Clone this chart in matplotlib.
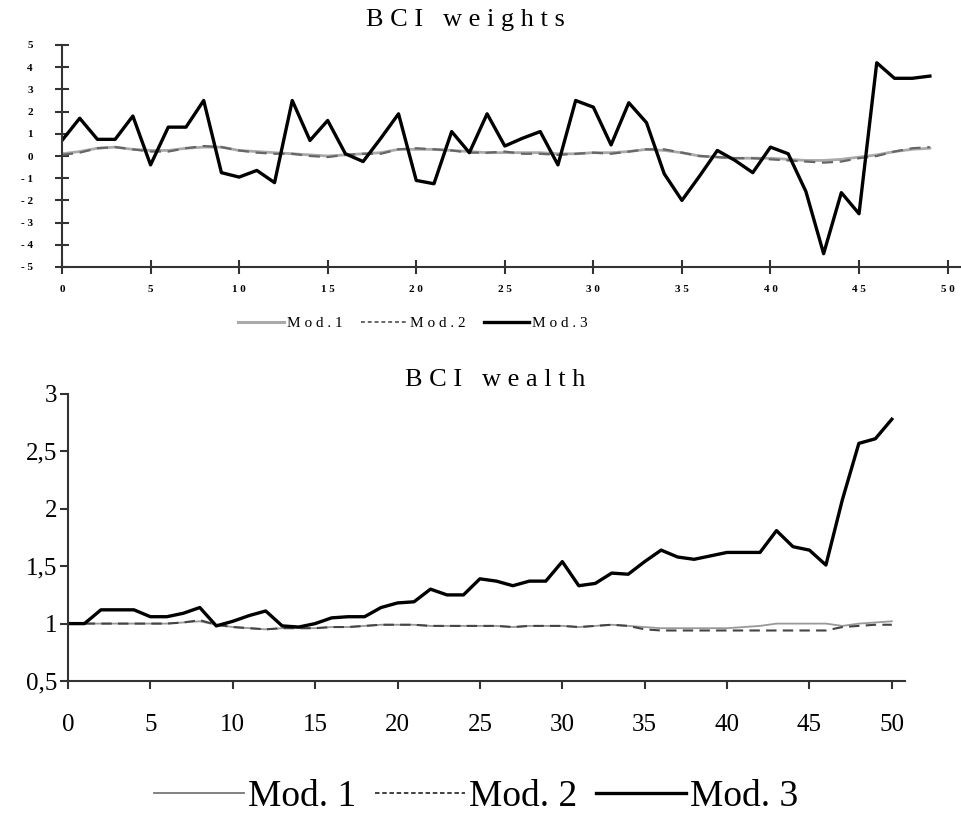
import numpy as np
import matplotlib
matplotlib.use('Agg')
import matplotlib.pyplot as plt
from matplotlib.lines import Line2D

plt.rcParams['font.family'] = ['Liberation Serif', 'DejaVu Serif']

# Data
#######

# BCI weights, periods 0..49
w_x = np.arange(50)
w_mod1 = [0.1, 0.2, 0.35, 0.4, 0.3, 0.25, 0.25, 0.35, 0.4, 0.4, 0.25, 0.2, 0.15, 0.1, 0.05,
          0.0, 0.05, 0.1, 0.15, 0.3, 0.3, 0.3, 0.25, 0.2, 0.15, 0.15, 0.15, 0.15, 0.1, 0.1,
          0.15, 0.15, 0.2, 0.3, 0.25, 0.15, 0.0, -0.05, -0.1, -0.1, -0.1, -0.15, -0.2, -0.2,
          -0.15, -0.05, 0.05, 0.2, 0.3, 0.35]
w_mod2 = [0.05, 0.15, 0.35, 0.4, 0.3, 0.2, 0.2, 0.35, 0.45, 0.4, 0.25, 0.15, 0.1, 0.1, 0.0,
          -0.05, 0.05, 0.1, 0.1, 0.3, 0.35, 0.3, 0.25, 0.15, 0.15, 0.2, 0.1, 0.1, 0.05, 0.1,
          0.15, 0.1, 0.2, 0.3, 0.3, 0.15, 0.0, -0.05, -0.1, -0.1, -0.15, -0.2, -0.25, -0.3,
          -0.25, -0.1, 0.0, 0.2, 0.35, 0.4]
w_mod3 = [0.7, 1.7, 0.75, 0.75, 1.8, -0.4, 1.3, 1.3, 2.5, -0.75, -0.95, -0.65, -1.2, 2.5, 0.7,
          1.6, 0.1, -0.25, 0.8, 1.9, -1.1, -1.25, 1.1, 0.15, 1.9, 0.45, 0.8, 1.1, -0.4, 2.5,
          2.2, 0.5, 2.4, 1.5, -0.8, -2.0, -0.9, 0.25, -0.2, -0.75, 0.4, 0.1, -1.6, -4.4,
          -1.65, -2.6, 4.2, 3.5, 3.5, 3.6]

# BCI wealth, periods 0..50
h_x = np.arange(51)
h_mod1 = [1.0, 1.0, 1.0, 1.0, 1.0, 1.0, 1.0, 1.01, 1.02, 0.99, 0.97, 0.96, 0.95, 0.96, 0.96,
          0.96, 0.97, 0.97, 0.98, 0.99, 0.99, 0.99, 0.98, 0.98, 0.98, 0.98, 0.98, 0.97, 0.98,
          0.98, 0.98, 0.97, 0.98, 0.99, 0.98, 0.97, 0.96, 0.96, 0.96, 0.96, 0.96, 0.97, 0.98,
          1.0, 1.0, 1.0, 1.0, 0.98, 1.0, 1.01, 1.02]
h_mod2 = [1.0, 1.0, 1.0, 1.0, 1.0, 1.0, 1.0, 1.01, 1.03, 0.99, 0.97, 0.96, 0.95, 0.96, 0.96,
          0.96, 0.97, 0.97, 0.98, 0.99, 0.99, 0.99, 0.98, 0.98, 0.98, 0.98, 0.98, 0.97, 0.98,
          0.98, 0.98, 0.97, 0.98, 0.99, 0.98, 0.95, 0.94, 0.94, 0.94, 0.94, 0.94, 0.94, 0.94,
          0.94, 0.94, 0.94, 0.94, 0.97, 0.98, 0.99, 0.99]
h_mod3 = [1.0, 1.0, 1.12, 1.12, 1.12, 1.06, 1.06, 1.09, 1.14, 0.98, 1.02, 1.07, 1.11, 0.98,
          0.97, 1.0, 1.05, 1.06, 1.06, 1.14, 1.18, 1.19, 1.3, 1.25, 1.25, 1.39, 1.37, 1.33,
          1.37, 1.37, 1.54, 1.33, 1.35, 1.44, 1.43, 1.54, 1.64, 1.58, 1.56, 1.59, 1.62, 1.62,
          1.62, 1.81, 1.67, 1.64, 1.51, 2.08, 2.57, 2.61, 2.78]

labels_top = ['M o d . 1', 'M o d . 2', 'M o d . 3']
labels_bot = ['Mod. 1', 'Mod. 2', 'Mod. 3']

fig = plt.figure(figsize=(9.62, 8.17), dpi=100)

# Top panel: weights
#####################
ax1 = fig.add_axes([62/962, 1-267/817, 898/962, 222/817])
ax1.plot(w_x, w_mod1, color='#aaaaaa', lw=2.0)
ax1.plot(w_x, w_mod2, color='#666666', lw=1.6, dashes=(5, 3))
ax1.plot(w_x, w_mod3, color='black', lw=2.4)
ax1.set_xlim(0, 50.7)
ax1.set_ylim(-5, 5)
ax1.spines['top'].set_visible(False)
ax1.spines['right'].set_visible(False)
for s in ['left', 'bottom']:
    ax1.spines[s].set_linewidth(1.5)
    ax1.spines[s].set_color('#333333')
ax1.set_xticks(range(0, 51, 5))
ax1.set_xticklabels([' '.join(str(v)) for v in range(0, 51, 5)])
ax1.set_yticks(range(-5, 6))
ax1.set_yticklabels([('- ' + str(-v)) if v < 0 else str(v) for v in range(-5, 6)])
ax1.tick_params(axis='both', direction='inout', length=10, width=1.5, color='#333333',
                labelsize=8)
ax1.tick_params(axis='x', pad=8)
ax1.tick_params(axis='y', pad=16)
for t in ax1.get_xticklabels() + ax1.get_yticklabels():
    t.set_fontweight('bold')
fig.text(465/962, 1-20/817, 'B C I   w e i g h t s', ha='center', va='center', fontsize=19)

# legend handles (the legend shows Mod. 2 as short dots)
top_handles = [Line2D([], [], color='#aaaaaa', lw=2.2),
               Line2D([], [], color='#666666', lw=1.4, dashes=(2, 1.5)),
               Line2D([], [], color='black', lw=2.4)]
fig.legend(top_handles, labels_top, loc='center', bbox_to_anchor=(413/962, 1-323/817),
           ncol=3, frameon=False, fontsize=11, handlelength=3.0, handletextpad=0.2,
           columnspacing=1.2)

# Bottom panel: wealth
#######################
ax2 = fig.add_axes([68/962, 1-681/817, 837/962, 287/817])
ax2.plot(h_x, h_mod1, color='#999999', lw=1.3)
ax2.plot(h_x, h_mod2, color='#444444', lw=1.5, dashes=(5, 3))
ax2.plot(h_x, h_mod3, color='black', lw=2.4)
ax2.set_xlim(0, 50.8)
ax2.set_ylim(0.5, 3)
ax2.spines['top'].set_visible(False)
ax2.spines['right'].set_visible(False)
for s in ['left', 'bottom']:
    ax2.spines[s].set_linewidth(1.5)
    ax2.spines[s].set_color('#333333')
ax2.set_xticks(range(0, 51, 5))
ax2.set_yticks([0.5, 1, 1.5, 2, 2.5, 3])
ax2.set_yticklabels(['0,5', '1', '1,5', '2', '2,5', '3'])
ax2.tick_params(axis='both', direction='out', length=6, width=1.5, color='#333333',
                labelsize=18)
ax2.tick_params(axis='x', pad=18)
ax2.tick_params(axis='y', pad=2)
fig.text(495/962, 1-380/817, 'B C I   w e a l t h', ha='center', va='center', fontsize=19)

bot_handles = [Line2D([], [], color='#777777', lw=1.3),
               Line2D([], [], color='#333333', lw=1.3, dashes=(2.5, 1.5)),
               Line2D([], [], color='black', lw=2.4)]
fig.legend(bot_handles, labels_bot, loc='center', bbox_to_anchor=(476/962, 1-797/817),
           ncol=3, frameon=False, fontsize=27, handlelength=2.4, handletextpad=0.1,
           columnspacing=0.5)

fig.savefig('out.png', dpi=100)
